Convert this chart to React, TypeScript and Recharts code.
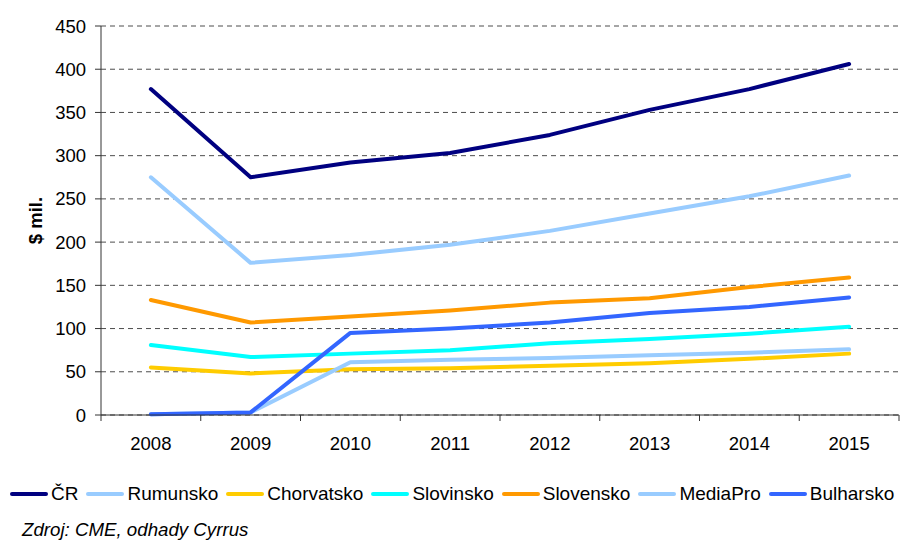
import React from 'react';
import { LineChart, Line, XAxis, YAxis, CartesianGrid, Legend } from 'recharts';

const YEARS = ['2008', '2009', '2010', '2011', '2012', '2013', '2014', '2015'];
const CR = [377, 275, 292, 303, 324, 353, 377, 406];
const RUMUNSKO = [275, 176, 185, 197, 213, 233, 253, 277];
const CHORVATSKO = [55, 48, 53, 54, 57, 60, 65, 71];
const SLOVINSKO = [81, 67, 71, 75, 83, 88, 94, 102];
const SLOVENSKO = [133, 107, 114, 121, 130, 135, 148, 159];
const MEDIAPRO = [1, 3, 61, 64, 66, 69, 72, 76];
const BULHARSKO = [1, 3, 95, 100, 107, 118, 125, 136];
const Y_TICKS = [0, 50, 100, 150, 200, 250, 300, 350, 400, 450];
const Y_LABEL = '$ mil.';
const SOURCE = 'Zdroj: CME, odhady Cyrrus';

const SERIES = [
  { key: 'cr', name: 'ČR', color: '#000080', values: CR },
  { key: 'rumunsko', name: 'Rumunsko', color: '#99CCFF', values: RUMUNSKO },
  { key: 'chorvatsko', name: 'Chorvatsko', color: '#FFCC00', values: CHORVATSKO },
  { key: 'slovinsko', name: 'Slovinsko', color: '#00FFFF', values: SLOVINSKO },
  { key: 'slovensko', name: 'Slovensko', color: '#FF9900', values: SLOVENSKO },
  { key: 'mediapro', name: 'MediaPro', color: '#99CCFF', values: MEDIAPRO },
  { key: 'bulharsko', name: 'Bulharsko', color: '#3366FF', values: BULHARSKO },
];

const X_TICKS = YEARS.map((_, i) => i).concat([YEARS.length]);

const data = YEARS.map((year, i) => {
  const row: any = { x: i + 0.5, year };
  SERIES.forEach((s) => {
    row[s.key] = s.values[i];
  });
  return row;
});

const W = 904;
const H = 540;
const MARGIN = { top: 26, right: 5, bottom: 35, left: 0 };
const Y_AXIS_W = 101;
const BAND = (W - MARGIN.left - MARGIN.right - Y_AXIS_W) / YEARS.length;
const FONT = '"Liberation Sans", Arial, sans-serif';
const AXIS_COLOR = '#333333';

const XTick = (props: any) => {
  const { x, y, payload } = props;
  const label = YEARS[payload.value];
  if (label === undefined) return <g />;
  return (
    <text x={x + BAND / 2} y={y} dy="0.71em" textAnchor="middle" fontSize={18.5} fontFamily={FONT} fill="#000">
      {label}
    </text>
  );
};

const YLabel = (props: any) => {
  const vb = props.viewBox || { x: 0, y: 0, width: 0, height: 0 };
  const cx = vb.x + 35;
  const cy = vb.y + vb.height / 2;
  return (
    <text
      x={cx}
      y={cy}
      transform={`rotate(-90 ${cx} ${cy})`}
      textAnchor="middle"
      dominantBaseline="central"
      fontWeight="bold"
      fontSize={18.5}
      fontFamily={FONT}
      fill="#000"
    >
      {Y_LABEL}
    </text>
  );
};

const LegendContent = () => (
  <div style={{ height: 60, fontFamily: FONT, color: '#000' }}>
    <div style={{ display: 'flex', alignItems: 'center', height: 24, paddingLeft: 10, fontSize: 19, whiteSpace: 'nowrap' }}>
      {SERIES.map((s) => (
        <span key={s.key} style={{ display: 'flex', alignItems: 'center', marginRight: 8 }}>
          <span style={{ display: 'inline-block', width: 38, height: 4, background: s.color, marginRight: 3, borderRadius: 2 }} />
          <span>{s.name}</span>
        </span>
      ))}
    </div>
    <div style={{ fontStyle: 'italic', fontSize: 18.7, marginTop: 13, paddingLeft: 22, lineHeight: '22px', whiteSpace: 'nowrap' }}>
      {SOURCE}
    </div>
  </div>
);

export default function App() {
  return (
    <div style={{ position: 'absolute', top: 0, left: 0, width: W, height: H, background: '#fff' }}>
      <LineChart width={W} height={H} data={data} margin={MARGIN}>
        <CartesianGrid vertical={false} stroke="#4d4d4d" strokeDasharray="5 4" />
        <XAxis
          dataKey="x"
          type="number"
          domain={[0, YEARS.length]}
          ticks={X_TICKS}
          interval={0}
          height={30}
          tickSize={6}
          tickMargin={16}
          axisLine={{ stroke: AXIS_COLOR }}
          tickLine={{ stroke: AXIS_COLOR }}
          tick={<XTick />}
        />
        <YAxis
          type="number"
          domain={[0, 450]}
          ticks={Y_TICKS}
          interval={0}
          width={Y_AXIS_W}
          tickSize={6}
          tickMargin={9}
          axisLine={{ stroke: AXIS_COLOR }}
          tickLine={{ stroke: AXIS_COLOR }}
          tick={{ fontSize: 18.5, fill: '#000', fontFamily: FONT }}
          label={<YLabel />}
        />
        <Legend
          verticalAlign="bottom"
          layout="horizontal"
          content={<LegendContent />}
          wrapperStyle={{ left: 0, bottom: -2, width: W }}
        />
        {SERIES.map((s) => (
          <Line
            key={s.key}
            type="linear"
            dataKey={s.key}
            name={s.name}
            stroke={s.color}
            strokeWidth={4}
            dot={false}
            activeDot={false}
            strokeLinecap="round"
            strokeLinejoin="round"
            isAnimationActive={false}
          />
        ))}
      </LineChart>
    </div>
  );
}
